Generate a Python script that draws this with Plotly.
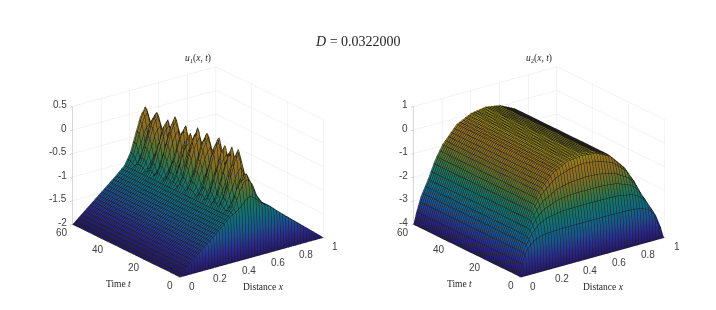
import plotly.graph_objects as go

parula = [[0, "#3e26a8"], [0.125, "#4749f2"], [0.25, "#2f8bf5"], [0.375, "#16b5d8"],
          [0.5, "#27c4a4"], [0.625, "#7dc45a"], [0.75, "#d9ba3a"], [0.875, "#fcbc2e"], [1, "#f9fb15"]]

# ---------- u1 values, as height above the floor z = -2 ----------
x1 = [0, .1, .2, .3, .36, .4, .44, .47, .5, .53, .56, .6, .64, .7, .8, .9, 1]
u1_floor = -2
u1_early_t = [0, .1, .2, .4, .7]
u1_early = [
    [0, 0, 0, 0, 0, 0, 0, 0, 0, 0, 0, 0, 0, 0, 0, 0, 0],
    [0, .2, .26, .28, .28, .28, .28, .28, .28, .28, .28, .28, .28, .28, .26, .2, 0],
    [0, .25, .44, .52, .54, .55, .55, .55, .55, .55, .55, .55, .54, .52, .44, .25, 0],
    [0, .26, .5, .72, .8, .83, .85, .86, .86, .86, .85, .83, .8, .72, .5, .26, 0],
    [0, .26, .52, .78, .92, .98, 1.02, 1.05, 1.06, 1.05, 1.02, .98, .92, .78, .52, .26, 0],
]
u1_flank_left = [0, .26, .52, .78, .95]
u1_flank_right = [.95, .78, .52, .26, 0]
u1_ridge_t = [1, 2, 3, 4, 5.3,
              6.0, 6.8, 7.6, 8.2, 8.9, 9.4,
              9.9, 10.5, 11.1, 11.8, 12.4, 13,
              13.6, 14.3, 15, 15.6, 16.1, 16.6,
              17.1, 17.6, 18.2, 19.4, 20.5, 21.5,
              22.6, 23.8, 25, 25.9, 26.8, 27.6,
              28.4, 29.3, 30.2, 30.9, 31.6, 32.2,
              32.8, 33.6, 34.3, 34.7, 35.1, 35.5,
              35.9, 36.3, 36.7, 37.7, 38.8, 39.7,
              40.6, 41.7, 42.8, 43.5, 44.2, 44.8,
              45.4, 46.1, 46.8, 47.5, 48.2, 49.8,
              50.7, 51.8, 52.9, 54, 55, 56,
              57, 58.1, 59.3, 60]
u1_ridge = [
    [1.02, 1.12, 1.22, 1.28, 1.22, 1.12, 1.02],
    [1.08, 1.4, 1.58, 1.62, 1.48, 1.22, 1.03],
    [1.1, 1.55, 1.7, 1.72, 1.5, 1.24, 1.04],
    [1.08, 1.38, 1.55, 1.6, 1.42, 1.2, 1.03],
    [1.03, 1.2, 1.38, 1.45, 1.3, 1.14, 1.02],
    # t = 6.0 .. 8.9, peak 2.15
    [1.12, 1.42, 1.68, 1.8, 1.52, 1.23, 1.05],
    [1.19, 1.61, 1.92, 2.08, 1.7, 1.31, 1.07],
    [1.2, 1.64, 1.97, 2.15, 1.75, 1.33, 1.08],
    [1.19, 1.61, 1.92, 2.08, 1.7, 1.31, 1.07],
    [1.12, 1.42, 1.68, 1.8, 1.52, 1.23, 1.05],
    [1.03, 1.2, 1.38, 1.45, 1.3, 1.14, 1.02],
    # t = 9.9 .. 12.4, peak 2.14
    [1.12, 1.42, 1.68, 1.8, 1.52, 1.23, 1.05],
    [1.19, 1.61, 1.92, 2.07, 1.7, 1.31, 1.07],
    [1.2, 1.64, 1.97, 2.14, 1.74, 1.33, 1.08],
    [1.19, 1.61, 1.92, 2.07, 1.7, 1.31, 1.07],
    [1.12, 1.42, 1.68, 1.8, 1.52, 1.23, 1.05],
    [1.03, 1.2, 1.38, 1.45, 1.3, 1.14, 1.02],
    # t = 13.6 .. 16.1, peak 2.10
    [1.12, 1.41, 1.67, 1.78, 1.5, 1.22, 1.05],
    [1.18, 1.6, 1.9, 2.03, 1.68, 1.3, 1.07],
    [1.2, 1.62, 1.94, 2.1, 1.72, 1.32, 1.08],
    [1.18, 1.6, 1.9, 2.03, 1.68, 1.3, 1.07],
    [1.12, 1.41, 1.67, 1.78, 1.5, 1.22, 1.05],
    [1.05, 1.26, 1.46, 1.55, 1.38, 1.17, 1.03],
    # t = 17.1 .. 20.5, peak 2.20
    [1.13, 1.44, 1.7, 1.83, 1.54, 1.24, 1.05],
    [1.2, 1.63, 1.95, 2.12, 1.73, 1.33, 1.07],
    [1.22, 1.68, 2.0, 2.2, 1.78, 1.35, 1.08],
    [1.2, 1.63, 1.95, 2.12, 1.73, 1.33, 1.07],
    [1.13, 1.44, 1.7, 1.83, 1.54, 1.24, 1.05],
    [1.03, 1.2, 1.38, 1.45, 1.3, 1.14, 1.02],
    # t = 22.6 .. 26.8, peak 2.17
    [1.12, 1.43, 1.69, 1.81, 1.53, 1.23, 1.05],
    [1.2, 1.62, 1.94, 2.1, 1.72, 1.32, 1.07],
    [1.21, 1.66, 1.99, 2.17, 1.76, 1.34, 1.08],
    [1.2, 1.62, 1.94, 2.1, 1.72, 1.32, 1.07],
    [1.12, 1.43, 1.69, 1.81, 1.53, 1.23, 1.05],
    [1.03, 1.2, 1.38, 1.45, 1.3, 1.14, 1.02],
    # t = 28.4 .. 31.6, peak 2.19
    [1.13, 1.44, 1.7, 1.82, 1.54, 1.24, 1.05],
    [1.2, 1.63, 1.95, 2.11, 1.73, 1.33, 1.07],
    [1.22, 1.67, 2.0, 2.19, 1.77, 1.35, 1.08],
    [1.2, 1.63, 1.95, 2.11, 1.73, 1.33, 1.07],
    [1.13, 1.44, 1.7, 1.82, 1.54, 1.24, 1.05],
    [1.03, 1.2, 1.38, 1.45, 1.3, 1.14, 1.02],
    # t = 32.8 .. 35.1, peak 2.00
    [1.1, 1.38, 1.62, 1.72, 1.48, 1.21, 1.04],
    [1.17, 1.55, 1.84, 1.94, 1.63, 1.29, 1.07],
    [1.18, 1.58, 1.88, 2.0, 1.66, 1.3, 1.07],
    [1.17, 1.55, 1.84, 1.94, 1.63, 1.29, 1.07],
    [1.1, 1.38, 1.62, 1.72, 1.48, 1.21, 1.04],
    [1.06, 1.28, 1.48, 1.56, 1.4, 1.17, 1.03],
    # t = 35.9 .. 38.8, peak 2.11
    [1.12, 1.41, 1.67, 1.78, 1.5, 1.22, 1.05],
    [1.18, 1.6, 1.9, 2.04, 1.68, 1.3, 1.07],
    [1.2, 1.63, 1.95, 2.11, 1.72, 1.32, 1.08],
    [1.18, 1.6, 1.9, 2.04, 1.68, 1.3, 1.07],
    [1.12, 1.41, 1.67, 1.78, 1.5, 1.22, 1.05],
    [1.03, 1.2, 1.38, 1.45, 1.3, 1.14, 1.02],
    # t = 40.6 .. 44.2, peak 2.19
    [1.13, 1.44, 1.7, 1.82, 1.54, 1.24, 1.05],
    [1.2, 1.63, 1.95, 2.11, 1.73, 1.33, 1.07],
    [1.22, 1.67, 2.0, 2.19, 1.77, 1.35, 1.08],
    [1.2, 1.63, 1.95, 2.11, 1.73, 1.33, 1.07],
    [1.13, 1.44, 1.7, 1.82, 1.54, 1.24, 1.05],
    [1.03, 1.2, 1.38, 1.45, 1.3, 1.14, 1.02],
    # t = 45.4 .. 48.2, peak 2.05
    [1.11, 1.4, 1.65, 1.75, 1.5, 1.22, 1.05],
    [1.18, 1.57, 1.87, 1.98, 1.65, 1.3, 1.07],
    [1.19, 1.6, 1.92, 2.05, 1.69, 1.31, 1.07],
    [1.18, 1.57, 1.87, 1.98, 1.65, 1.3, 1.07],
    [1.11, 1.4, 1.65, 1.75, 1.5, 1.22, 1.05],
    [1.03, 1.2, 1.38, 1.45, 1.3, 1.14, 1.02],
    # t = 50.7 .. 55, peak 2.09
    [1.12, 1.41, 1.67, 1.77, 1.5, 1.22, 1.05],
    [1.18, 1.59, 1.89, 2.02, 1.67, 1.3, 1.07],
    [1.2, 1.62, 1.93, 2.09, 1.71, 1.32, 1.08],
    [1.18, 1.59, 1.89, 2.02, 1.67, 1.3, 1.07],
    [1.12, 1.41, 1.67, 1.77, 1.5, 1.22, 1.05],
    [1.03, 1.2, 1.38, 1.45, 1.3, 1.14, 1.02],
    # t = 57 .. 60, peak 2.09
    [1.12, 1.41, 1.67, 1.77, 1.5, 1.22, 1.05],
    [1.18, 1.59, 1.89, 2.02, 1.67, 1.3, 1.07],
    [1.2, 1.62, 1.93, 2.09, 1.71, 1.32, 1.08],
    [1.18, 1.59, 1.89, 2.04, 1.67, 1.3, 1.07],
]

# ---------- u2 values, as height above the floor z = -4 ----------
x2 = [0, .02, .05, .1, .15, .2, .3, .4, .5, .6, .7, .8, .85, .9, .95, .98, 1]
t2 = [0, .5, 1, 1.5, 2, 2.5, 3, 3.5, 4, 4.5, 5, 5.5, 6, 8, 60]
u2_floor = -4
u2 = [
    [0, 0, 0, 0, 0, 0, 0, 0, 0, 0, 0, 0, 0, 0, 0, 0, 0],
    [0, .45, .8, 1.0, 1.07, 1.09, 1.09, 1.09, 1.09, 1.09, 1.09, 1.09, 1.07, 1.0, .8, .45, 0],
    [0, .5, 1.0, 1.32, 1.45, 1.5, 1.53, 1.53, 1.53, 1.53, 1.53, 1.5, 1.45, 1.32, 1.0, .5, 0],
    [0, .5, 1.05, 1.5, 1.72, 1.82, 1.87, 1.87, 1.87, 1.87, 1.87, 1.82, 1.72, 1.5, 1.05, .5, 0],
    [0, .5, 1.08, 1.6, 1.92, 2.08, 2.2, 2.22, 2.22, 2.22, 2.2, 2.08, 1.92, 1.6, 1.08, .5, 0],
    [0, .5, 1.1, 1.65, 2.05, 2.28, 2.44, 2.48, 2.48, 2.48, 2.44, 2.28, 2.05, 1.65, 1.1, .5, 0],
    [0, .5, 1.1, 1.7, 2.18, 2.45, 2.68, 2.75, 2.75, 2.75, 2.68, 2.45, 2.18, 1.7, 1.1, .5, 0],
    [0, .5, 1.1, 1.72, 2.28, 2.6, 2.9, 3.0, 3.02, 3.0, 2.9, 2.6, 2.28, 1.72, 1.1, .5, 0],
    [0, .5, 1.1, 1.74, 2.35, 2.72, 3.08, 3.22, 3.27, 3.22, 3.08, 2.72, 2.35, 1.74, 1.1, .5, 0],
    [0, .5, 1.1, 1.75, 2.42, 2.85, 3.3, 3.46, 3.53, 3.46, 3.3, 2.85, 2.42, 1.75, 1.1, .5, 0],
    [0, .5, 1.1, 1.75, 2.46, 2.95, 3.5, 3.72, 3.81, 3.72, 3.5, 2.95, 2.46, 1.75, 1.1, .5, 0],
    [0, .5, 1.1, 1.75, 2.5, 3.0, 3.65, 3.92, 3.99, 3.92, 3.65, 3.0, 2.5, 1.75, 1.1, .5, 0],
    [0, .5, 1.1, 1.75, 2.5, 3.05, 3.72, 4.02, 4.1, 4.02, 3.72, 3.05, 2.5, 1.75, 1.1, .5, 0],
    [0, .5, 1.1, 1.75, 2.5, 3.05, 3.75, 4.05, 4.15, 4.05, 3.75, 3.05, 2.5, 1.75, 1.1, .5, 0],
    [0, .5, 1.1, 1.75, 2.5, 3.05, 3.75, 4.05, 4.15, 4.05, 3.75, 3.05, 2.5, 1.75, 1.1, .5, 0],
]

x_ticks = [0, .2, .4, .6, .8, 1]
x_labels = ["0", "0.2", "0.4", "0.6", "0.8", "1"]
t_ticks = [0, 20, 40, 60]
t_labels = ["0", "20", "40", "60"]
z1_ticks = [-2, -1.5, -1, -.5, 0, .5]
z1_labels = ["-2", "-1.5", "-1", "-0.5", "0", "0.5"]
z2_ticks = [-4, -3, -2, -1, 0, 1]
z2_labels = ["-4", "-3", "-2", "-1", "0", "1"]

t1 = u1_early_t + u1_ridge_t
z1 = [[v + u1_floor for v in r] for r in u1_early]
z1 += [[v + u1_floor for v in u1_flank_left + r + u1_flank_right] for r in u1_ridge]
z2 = [[v + u2_floor for v in r] for r in u2]

W, H = 716, 310
LINES = dict(color="#1c1c1c", width=1, show=True, highlight=False)
LIGHT = dict(ambient=0.6, diffuse=1.0, specular=0.05, roughness=0.9, fresnel=0)
LPOS = dict(x=2000, y=-3000, z=500)
TICK_FONT = dict(family="Liberation Sans", size=10, color="#404040")


def surf(x, t, z, scene, cmin, cmax):
    return go.Surface(
        x=x, y=t, z=z, scene=scene, colorscale=parula, cmin=cmin, cmax=cmax, showscale=False,
        hoverinfo="skip", lighting=LIGHT, lightposition=LPOS,
        contours=dict(
            x=dict(start=0, end=1, size=0.02, **LINES),
            y=dict(start=0, end=60, size=1, **LINES),
        ),
    )


def axis(vals, rng):
    return dict(
        range=rng, tickvals=vals, showticklabels=False, title=dict(text=""),
        showgrid=True, gridcolor="#e6e6e6", gridwidth=1, showbackground=False, zeroline=False,
        showline=True, linecolor="#b0b0b0", ticks="outside", ticklen=3, tickcolor="#b0b0b0",
        showspikes=False,
    )


def tick_notes(z_vals, z_labels):
    base = z_vals[0]
    notes = []
    for v, s in zip(x_ticks, x_labels):
        notes.append(dict(x=v, y=0, z=base, text=s, showarrow=False, xshift=12, yshift=-9, font=TICK_FONT))
    for v, s in zip(t_ticks, t_labels):
        notes.append(dict(x=0, y=v, z=base, text=s, showarrow=False, xshift=-10, yshift=-8, font=TICK_FONT))
    for v, s in zip(z_vals, z_labels):
        notes.append(dict(x=0, y=60, z=v, text=s, showarrow=False, xanchor="right", xshift=-3, yshift=2, font=TICK_FONT))
    return notes


def scene(cx, cy, z_vals, z_labels, z_rng):
    w, h = 300, 260
    d = 1.30
    k = 1.38
    return dict(
        domain=dict(x=[(cx - w / 2) / W, (cx + w / 2) / W], y=[1 - (cy + h / 2) / H, 1 - (cy - h / 2) / H]),
        xaxis=axis(x_ticks, [0, 1]),
        yaxis=axis(t_ticks, [0, 60]),
        zaxis=axis(z_vals, z_rng),
        aspectmode="manual", aspectratio=dict(x=k, y=k, z=0.707 * k),
        camera=dict(projection=dict(type="orthographic"), up=dict(x=0, y=0, z=1),
                    center=dict(x=0, y=0, z=0),
                    eye=dict(x=-0.558 * d, y=-0.744 * d, z=0.368 * d)),
        annotations=tick_notes(z_vals, z_labels),
    )


fig = go.Figure([surf(x1, t1, z1, "scene", -2, 0.25), surf(x2, t2, z2, "scene2", -4, 0.3)])


def note(px, py, text, size=9.5):
    return dict(x=px / W, y=1 - py / H, xref="paper", yref="paper", text=text, showarrow=False,
                xanchor="center", yanchor="middle",
                font=dict(family="Liberation Serif", size=size, color="#262626"))


fig.update_layout(
    width=W, height=H, margin=dict(l=0, r=0, t=0, b=0), paper_bgcolor="white", showlegend=False,
    scene=scene(197.5, 172, z1_ticks, z1_labels, [-2, 0.5]),
    scene2=scene(539, 172, z2_ticks, z2_labels, [-4, 1]),
    annotations=[
        note(358, 41, "<i>D</i> = 0.0322000", 14),
        note(198, 59, "<i>u</i><sub>1</sub>(<i>x, t</i>)"),
        note(539, 59, "<i>u</i><sub>2</sub>(<i>x, t</i>)"),
        note(118, 284, "Time <i>t</i>"),
        note(263, 287, "Distance <i>x</i>"),
        note(459, 284, "Time <i>t</i>"),
        note(603, 287, "Distance <i>x</i>"),
    ],
)
fig.write_html("out.html", config={"displayModeBar": False}, post_script="document.body.style.margin='0';")
